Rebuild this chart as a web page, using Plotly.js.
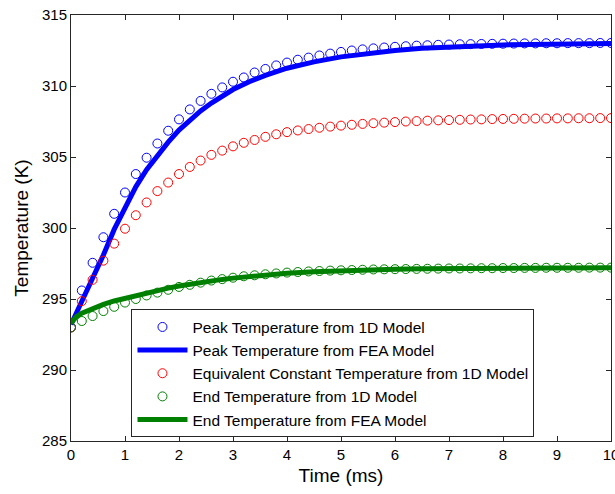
<!DOCTYPE html>
<html>
<head>
<meta charset="utf-8">
<script src="https://cdn.plot.ly/plotly-3.0.1.min.js"></script>
<style>html,body{margin:0;padding:0;background:#fff;}#chart{width:615px;height:494px;}</style>
</head>
<body>
<div id="chart"></div>
<script>
// Time samples of the 1D model (ms)
const time1D = [0, 0.2, 0.4, 0.6, 0.8, 1.0, 1.2, 1.4, 1.6, 1.8, 2.0, 2.2, 2.4, 2.6, 2.8, 3.0, 3.2, 3.4, 3.6, 3.8, 4.0, 4.2, 4.4, 4.6, 4.8, 5.0, 5.2, 5.4, 5.6, 5.8, 6.0, 6.2, 6.4, 6.6, 6.8, 7.0, 7.2, 7.4, 7.6, 7.8, 8.0, 8.2, 8.4, 8.6, 8.8, 9.0, 9.2, 9.4, 9.6, 9.8, 10.0];
const peak1D = [293.0, 295.6, 297.55, 299.35, 301.0, 302.5, 303.8, 304.95, 305.95, 306.85, 307.65, 308.35, 308.95, 309.45, 309.9, 310.3, 310.6, 310.95, 311.2, 311.45, 311.65, 311.85, 312.0, 312.15, 312.28, 312.4, 312.5, 312.58, 312.65, 312.71, 312.76, 312.8, 312.84, 312.87, 312.9, 312.92, 312.94, 312.95, 312.96, 312.97, 312.98, 312.99, 313.0, 313.0, 313.01, 313.01, 313.02, 313.02, 313.02, 313.03, 313.03];
const equiv1D = [293.0, 294.85, 296.35, 297.7, 298.9, 299.95, 300.9, 301.8, 302.6, 303.2, 303.8, 304.3, 304.75, 305.15, 305.45, 305.75, 306.0, 306.2, 306.42, 306.6, 306.75, 306.87, 306.97, 307.06, 307.14, 307.21, 307.27, 307.33, 307.38, 307.42, 307.46, 307.5, 307.53, 307.56, 307.58, 307.6, 307.62, 307.64, 307.65, 307.67, 307.68, 307.69, 307.7, 307.71, 307.71, 307.72, 307.72, 307.73, 307.73, 307.74, 307.74];
const end1D = [293.0, 293.45, 293.8, 294.15, 294.45, 294.75, 295.0, 295.25, 295.45, 295.65, 295.85, 296.0, 296.15, 296.3, 296.4, 296.5, 296.6, 296.67, 296.74, 296.8, 296.86, 296.9, 296.94, 296.97, 297.0, 297.02, 297.04, 297.06, 297.08, 297.09, 297.1, 297.11, 297.12, 297.13, 297.14, 297.15, 297.15, 297.16, 297.17, 297.17, 297.18, 297.18, 297.19, 297.19, 297.2, 297.2, 297.2, 297.2, 297.21, 297.21, 297.21];

// FEA model samples (ms)
const timeFEA = [0, 0.1, 0.2, 0.4, 0.6, 0.8, 1.0, 1.2, 1.4, 1.6, 1.8, 2.0, 2.2, 2.4, 2.6, 2.8, 3.0, 3.3, 3.6, 4.0, 4.5, 5.0, 5.5, 6.0, 6.5, 7.0, 7.5, 8.0, 8.5, 9.0, 9.5, 10];
const peakFEA = [293.2, 294.0, 294.8, 296.3, 298.1, 299.9, 301.5, 302.9, 304.1, 305.15, 306.05, 306.9, 307.6, 308.25, 308.8, 309.3, 309.75, 310.3, 310.75, 311.25, 311.7, 312.05, 312.3, 312.5, 312.65, 312.75, 312.83, 312.89, 312.93, 312.96, 312.98, 313.0];
const endFEA = [293.3, 293.75, 294.0, 294.35, 294.62, 294.86, 295.06, 295.25, 295.44, 295.61, 295.77, 295.92, 296.05, 296.17, 296.28, 296.38, 296.47, 296.59, 296.7, 296.81, 296.92, 297.0, 297.06, 297.1, 297.13, 297.15, 297.16, 297.17, 297.18, 297.19, 297.2, 297.2];

const names = [
  'Peak Temperature from 1D Model',
  'Peak Temperature from FEA Model',
  'Equivalent Constant Temperature from 1D Model',
  'End Temperature from 1D Model',
  'End Temperature from FEA Model'
];

const FONT = 'Liberation Sans, Arial, sans-serif';
const circle = (c) => ({symbol: 'circle-open', size: 9, color: c, line: {width: 1, color: c}});

const traces = [
  {x: time1D, y: peak1D, mode: 'markers', marker: circle('#0000ff'), name: names[0]},
  {x: timeFEA, y: peakFEA, mode: 'lines', line: {color: '#0000ff', width: 5}, name: names[1]},
  {x: time1D, y: equiv1D, mode: 'markers', marker: circle('#ff0000'), name: names[2]},
  {x: time1D, y: end1D, mode: 'markers', marker: circle('#008000'), name: names[3]},
  {x: timeFEA, y: endFEA, mode: 'lines', line: {color: '#008000', width: 5}, name: names[4]}
];

const tickFont = {family: FONT, size: 15, color: '#000'};
const titleFont = {family: FONT, size: 19, color: '#000'};

const layout = {
  width: 615, height: 494,
  margin: {l: 71, r: 4, t: 15, b: 53, pad: 0},
  paper_bgcolor: '#fff', plot_bgcolor: '#fff',
  font: tickFont,
  showlegend: true,
  xaxis: {
    range: [0, 10], tickvals: [0,1,2,3,4,5,6,7,8,9,10],
    ticks: 'inside', ticklen: 5, tickcolor: '#262626', tickwidth: 1,
    showline: true, linecolor: '#262626', linewidth: 1, mirror: 'ticks',
    showgrid: false, zeroline: false, ticklabeloverflow: 'allow',
    tickfont: tickFont,
    title: {text: 'Time (ms)', font: titleFont, standoff: 6}
  },
  yaxis: {
    range: [285, 315], tickvals: [285, 290, 295, 300, 305, 310, 315],
    ticks: 'inside', ticklen: 5, tickcolor: '#262626', tickwidth: 1,
    showline: true, linecolor: '#262626', linewidth: 1, mirror: 'ticks',
    showgrid: false, zeroline: false, ticklabeloverflow: 'allow',
    tickfont: tickFont,
    title: {text: 'Temperature (K)', font: titleFont, standoff: 8}
  },
  legend: {
    x: 0.112, y: 0.309, xanchor: 'left', yanchor: 'top',
    bgcolor: '#fff', bordercolor: '#262626', borderwidth: 1,
    font: {family: FONT, size: 15.5, color: '#000'},
    traceorder: 'normal', itemwidth: 50
  }
};

Plotly.newPlot('chart', traces, layout, {displayModeBar: false, staticPlot: true});
</script>
</body>
</html>
